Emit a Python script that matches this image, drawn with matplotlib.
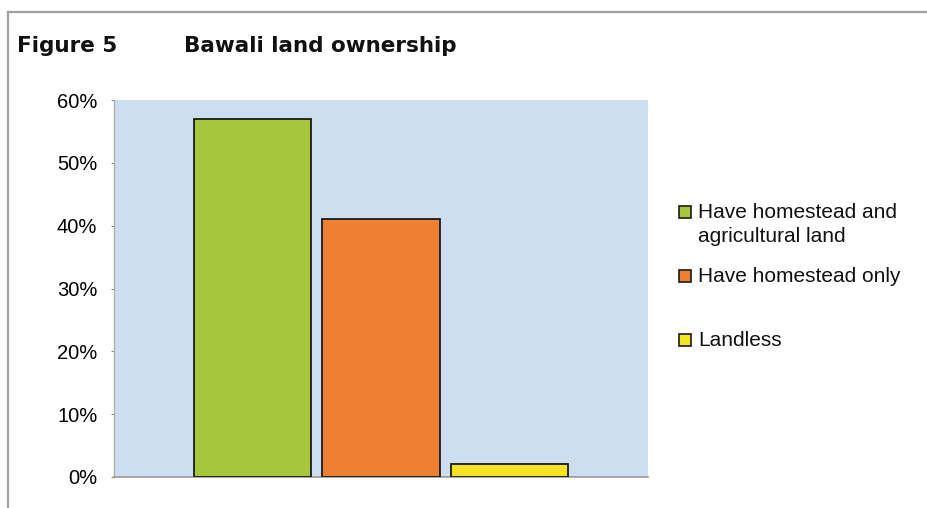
import matplotlib
matplotlib.use("Agg")
import matplotlib.pyplot as plt
from matplotlib.patches import Rectangle
from matplotlib.lines import Line2D
from matplotlib.ticker import FuncFormatter

# Data
categories = ["Have homestead and\nagricultural land", "Have homestead only", "Landless"]
values = [57, 41, 2]
colors = ["#a6c63c", "#ee8033", "#f6e324"]
yticks = [0, 10, 20, 30, 40, 50, 60]

W, H = 928, 508
fig = plt.figure(figsize=(W / 100, H / 100), dpi=100)
fig.patch.set_facecolor("white")

# Frame lines (top and left)
fig.add_artist(Line2D([8 / W, 1], [1 - 12 / H, 1 - 12 / H], color="#a0a0a0", lw=1.6))
fig.add_artist(Line2D([8 / W, 8 / W], [0, 1 - 12 / H], color="#a0a0a0", lw=1.6))

# Title
fig.text(17 / W, 1 - 46 / H, "Figure 5", fontsize=15.5, fontweight="bold",
         family="DejaVu Sans", va="center", ha="left", color="#111111")
fig.text(184 / W, 1 - 46 / H, "Bawali land ownership", fontsize=15.5, fontweight="bold",
         family="DejaVu Sans", va="center", ha="left", color="#111111")

ax = fig.add_axes([114 / W, 1 - 477 / H, 534 / W, 377 / H])
ax.set_facecolor("#cddef1")
x = list(range(len(values)))
ax.bar(x, values, width=0.91, color=colors, edgecolor="#1a1a1a", linewidth=1.3, zorder=3)
ax.set_xlim(-1.075, 3.075)
ax.set_ylim(0, 60)
ax.set_yticks(yticks)
ax.yaxis.set_major_formatter(FuncFormatter(lambda v, p: f"{int(v)}%"))
ax.set_xticks([])
for lab in ax.get_yticklabels():
    lab.set_fontfamily("Liberation Sans")
    lab.set_fontsize(14.5)
ax.tick_params(axis="y", length=2, width=0.8, color="#888888", pad=10)
for s in ["top", "right"]:
    ax.spines[s].set_visible(False)
ax.spines["left"].set_color("#b0b0b0")
ax.spines["bottom"].set_color("#9a9a9a")
ax.spines["left"].set_linewidth(1.0)
ax.spines["bottom"].set_linewidth(1.2)

# Legend (manual)
leg_y = [212, 276, 340]
for lab, col, yy in zip(categories, colors, leg_y):
    fig.add_artist(Rectangle((679 / W, 1 - (yy + 6) / H), 12 / W, 12 / H,
                             facecolor=col, edgecolor="#1a1a1a", lw=1.2,
                             transform=fig.transFigure))
    fig.text(698 / W, 1 - (yy - 9) / H, lab, fontsize=15, family="Liberation Sans",
             va="top", ha="left", color="#111111", linespacing=1.3)

fig.savefig("out.png", dpi=100)
